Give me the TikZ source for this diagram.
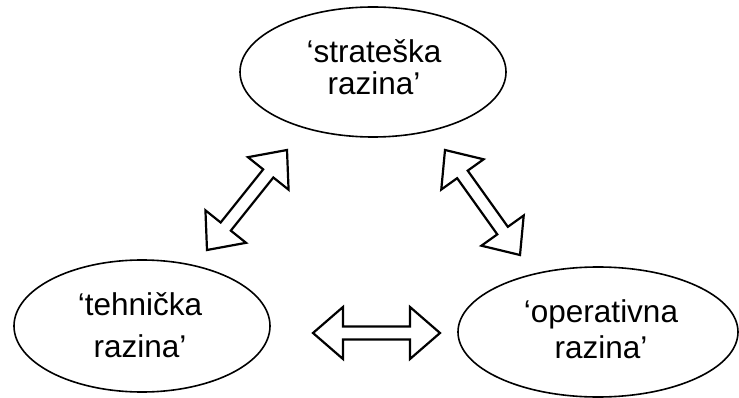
\documentclass[tikz,border=0pt]{standalone}
\usepackage{fontspec}
\setmainfont{Liberation Sans}
\usetikzlibrary{shapes.geometric,calc}
\tikzset{
  level/.style={ellipse, draw, line width=1.6pt, inner sep=0pt},
  lbl/.style={inner sep=0pt, align=center, anchor=base},
  blockarr/.style={draw, line width=2.2pt, line join=miter, fill=white}
}
\newcommand{\blockarrow}[2]{%
  \draw[blockarr] (#1)
   -- ($(#1)!30pt!(#2)!26pt!90:(#2)$)
   -- ($(#1)!30pt!(#2)!6.5pt!90:(#2)$)
   -- ($(#2)!30pt!(#1)!6.5pt!-90:(#1)$)
   -- ($(#2)!30pt!(#1)!26pt!-90:(#1)$)
   -- (#2)
   -- ($(#2)!30pt!(#1)!26pt!90:(#1)$)
   -- ($(#2)!30pt!(#1)!6.5pt!90:(#1)$)
   -- ($(#1)!30pt!(#2)!6.5pt!-90:(#2)$)
   -- ($(#1)!30pt!(#2)!26pt!-90:(#2)$)
   -- cycle;}
\begin{document}
\begin{tikzpicture}[x=1pt,y=-1pt]
\useasboundingbox (0,0) rectangle (739,398);
\node[level, minimum width=266pt, minimum height=130pt] (strat) at (373,72) {};
\node[level, minimum width=256pt, minimum height=132pt] (teh) at (142,326) {};
\node[level, minimum width=280pt, minimum height=130pt] (op) at (598,332) {};
% base anchor = baseline of the last line
\node[lbl, font=\fontsize{31.5}{32}\selectfont] (stratT) at (374,95) {‘strateška\\razina’};
\node[lbl, font=\fontsize{31.5}{42}\selectfont] (tehT) at (140,357) {‘tehnička\\razina’};
\node[lbl, font=\fontsize{31.5}{36}\selectfont] (opT) at (601,358) {‘operativna\\razina’};
\coordinate (a1s) at (207,250);
\coordinate (a1e) at (287,150);
\coordinate (a2s) at (445,150);
\coordinate (a2e) at (520,255);
\coordinate (a3s) at (313,333);
\coordinate (a3e) at (440,333);
\blockarrow{a1s}{a1e}
\blockarrow{a2s}{a2e}
\blockarrow{a3s}{a3e}
\end{tikzpicture}
\end{document}
